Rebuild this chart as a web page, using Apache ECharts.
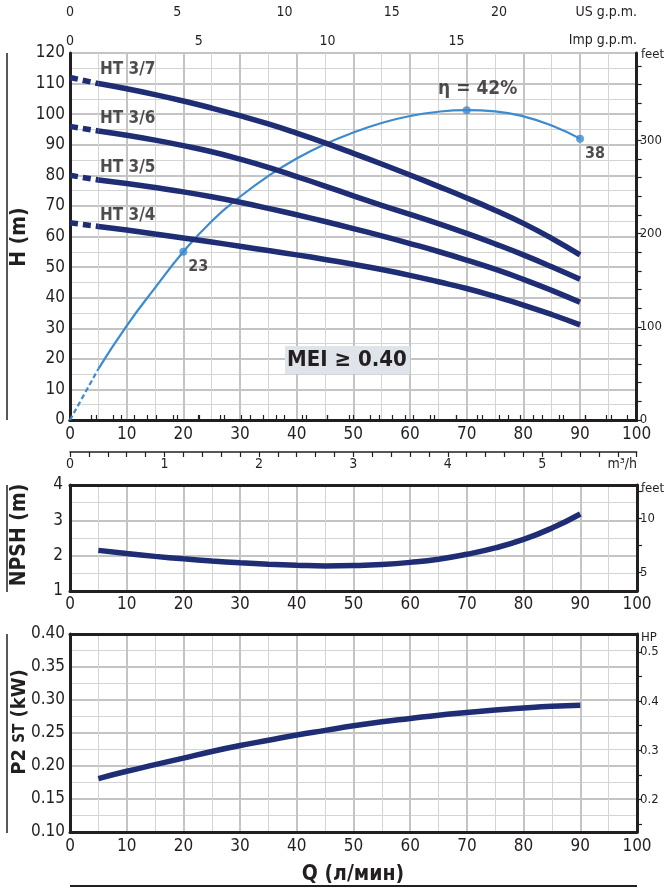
<!DOCTYPE html>
<html>
<head>
<meta charset="utf-8">
<script src="https://cdn.jsdelivr.net/npm/echarts@6/dist/echarts.min.js"></script>
<style>
html, body { margin: 0; padding: 0; background: #fff; }
#chart { width: 665px; height: 889px; }
</style>
</head>
<body>
<div id="chart"></div>
<script>
const FONT = "'Liberation Sans Narrow', 'DejaVu Sans Condensed', sans-serif";
const INK = '#231f20';
const NAVY = '#1f2e74';
const BLUE = '#3c8bd0';
const GRID = '#c4c4c4';
const GRID_MINOR = '#d4d4d4';

// flow, l/min
const flowQ = [5, 10, 15, 20, 25, 30, 35, 40, 45, 50, 55, 60, 65, 70, 75, 80, 85, 90];

// head curves, m (solid part, from 5 l/min)
const ht37 = [110, 108.3, 106.4, 104.3, 102, 99.5, 96.8, 93.8, 90.6, 87.2, 83.7, 80.1, 76.4, 72.6, 68.6, 64.3, 59.4, 54];
const ht36 = [94.5, 93.1, 91.5, 89.7, 87.7, 85.3, 82.6, 79.6, 76.5, 73.3, 70.2, 67.2, 64.2, 61, 57.6, 54, 50.1, 46];
const ht35 = [78.5, 77.3, 76, 74.6, 73, 71.2, 69.2, 67.1, 64.9, 62.6, 60.2, 57.7, 55.1, 52.3, 49.3, 46, 42.4, 38.5];
const ht34 = [63.3, 62.1, 60.8, 59.5, 58.2, 56.8, 55.4, 54, 52.5, 50.9, 49.2, 47.3, 45.2, 43, 40.4, 37.6, 34.5, 31.1];
const headCurves = [ht37, ht36, ht35, ht34];
const curveNames = ['HT 3/7', 'HT 3/6', 'HT 3/5', 'HT 3/4'];
// head at zero flow (dashed start)
const shutoffHead = [112, 96, 80, 64.5];

// efficiency curve drawn on the H scale
const effHead = [16.7, 30.8, 43.2, 55, 65, 73, 79.8, 85.5, 90.2, 94, 97.1, 99.4, 100.8, 101.3, 100.9, 99.3, 96.3, 92];
const effMarkQ = [20, 70, 90];
const effMarkText = ['23', '42%', '38'];

// NPSH, m
const npsh = [2.15, 2.06, 1.98, 1.91, 1.85, 1.80, 1.76, 1.73, 1.71, 1.72, 1.75, 1.81, 1.90, 2.04, 2.22, 2.46, 2.78, 3.18];
// P2, kW
const p2 = [0.181, 0.192, 0.202, 0.212, 0.222, 0.231, 0.239, 0.247, 0.254, 0.261, 0.267, 0.272, 0.277, 0.281, 0.285, 0.288, 0.2905, 0.292];

const M_TO_FT = 3.28084;
const KW_TO_HP = 1 / 0.7457;
const LPM_PER_IMP = 4.54609;
const LPM_PER_US = 3.78541;

function pairs(ys) {
    return flowQ.map((q, i) => [q, ys[i]]);
}

function isWhole(v, step) {
    let r = Math.round(v / step);
    return Math.abs(v / step - r) < 1e-6;
}

let labelBase = { fontFamily: FONT, color: INK };

function flowAxis(gridIndex, margin) {
    return {
        type: 'value', gridIndex: gridIndex, position: 'bottom',
        min: 0, max: 100, interval: 10,
        axisLine: { show: true, onZero: false, lineStyle: { color: INK, width: 3 } },
        axisTick: { show: false },
        axisLabel: Object.assign({ fontSize: 17, margin: margin }, labelBase),
        minorTick: { show: false, splitNumber: 2 },
        splitLine: { show: true, lineStyle: { color: GRID, width: 2 } },
        minorSplitLine: { show: true, lineStyle: { color: GRID_MINOR, width: 1 } }
    };
}

function frameTop(gridIndex) {
    return {
        type: 'value', gridIndex: gridIndex, position: 'top', min: 0, max: 100,
        axisLine: { show: true, lineStyle: { color: INK, width: 3 } },
        axisTick: { show: false }, axisLabel: { show: false }, splitLine: { show: false }
    };
}

function leftAxis(gridIndex, min, max, interval, margin, formatter) {
    return {
        type: 'value', gridIndex: gridIndex, position: 'left',
        min: min, max: max, interval: interval,
        axisLine: { show: true, onZero: false, lineStyle: { color: INK, width: 3 } },
        axisTick: { show: false },
        axisLabel: Object.assign({ fontSize: 17, margin: margin, formatter: formatter }, labelBase),
        minorTick: { show: false, splitNumber: 2 },
        splitLine: { show: true, lineStyle: { color: GRID, width: 2 } },
        minorSplitLine: { show: true, lineStyle: { color: GRID_MINOR, width: 1 } }
    };
}

let options = {
    animation: false,
    backgroundColor: '#fff',
    grid: [
        { left: 70, top: 53, width: 567, height: 367 },
        { left: 70, top: 485, width: 567, height: 106 },
        { left: 70, top: 634, width: 567, height: 198 }
    ],
    xAxis: [
        flowAxis(0, 6),
        {
            type: 'value', gridIndex: 0, position: 'top',
            min: 0, max: 100 / LPM_PER_IMP, interval: 1,
            axisLine: { show: true, lineStyle: { color: INK, width: 3 } },
            axisTick: { show: true, length: 5, lineStyle: { color: INK, width: 1.2 } },
            axisLabel: Object.assign({
                fontSize: 14, margin: 5, showMaxLabel: false,
                formatter: v => (isWhole(v, 5) && v < 19 ? String(Math.round(v)) : '')
            }, labelBase),
            splitLine: { show: false }
        },
        {
            type: 'value', gridIndex: 0, position: 'top', offset: 29,
            min: 0, max: 100 / LPM_PER_US, interval: 1,
            axisLine: { show: true, lineStyle: { color: INK, width: 1.5 } },
            axisTick: { show: true, length: 5, lineStyle: { color: INK, width: 1.2 } },
            axisLabel: Object.assign({
                fontSize: 14, margin: 5, showMaxLabel: false,
                formatter: v => (isWhole(v, 5) && v < 24 ? String(Math.round(v)) : '')
            }, labelBase),
            splitLine: { show: false }
        },
        {
            type: 'value', gridIndex: 0, position: 'bottom', offset: 32,
            min: 0, max: 6, interval: 0.2,
            axisLine: { show: true, onZero: false, lineStyle: { color: INK, width: 1.5 } },
            axisTick: { show: true, length: 5, lineStyle: { color: INK, width: 1.2 } },
            axisLabel: Object.assign({
                fontSize: 14, margin: 5,
                formatter: v => (isWhole(v, 1) && v < 5.5 ? String(Math.round(v)) : '')
            }, labelBase),
            splitLine: { show: false }
        },
        flowAxis(1, 5),
        frameTop(1),
        flowAxis(2, 6),
        frameTop(2)
    ],
    yAxis: [
        leftAxis(0, 0, 120, 10, 5),
        {
            type: 'value', gridIndex: 0, position: 'right',
            min: 0, max: 120 * M_TO_FT, interval: 20,
            axisLine: { show: true, onZero: false, lineStyle: { color: INK, width: 3 } },
            axisTick: { show: true, length: 5, lineStyle: { color: INK, width: 1.2 } },
            axisLabel: Object.assign({
                fontSize: 13, margin: 3, showMaxLabel: false,
                formatter: v => (isWhole(v, 100) ? String(Math.round(v)) : '')
            }, labelBase),
            splitLine: { show: false }
        },
        leftAxis(1, 1, 4, 1, 7),
        {
            type: 'value', gridIndex: 1, position: 'right',
            min: 1 * M_TO_FT, max: 4 * M_TO_FT,
            axisLine: { show: true, onZero: false, lineStyle: { color: INK, width: 3 } },
            axisTick: { show: true, length: 5, customValues: [5, 7.5, 10, 12.5], lineStyle: { color: INK, width: 1.2 } },
            axisLabel: Object.assign({ fontSize: 13, margin: 3, customValues: [5, 10] }, labelBase),
            splitLine: { show: false }
        },
        leftAxis(2, 0.1, 0.4, 0.05, 5, v => v.toFixed(2)),
        {
            type: 'value', gridIndex: 2, position: 'right',
            min: 0.1 * KW_TO_HP, max: 0.4 * KW_TO_HP,
            axisLine: { show: true, onZero: false, lineStyle: { color: INK, width: 3 } },
            axisTick: { show: true, length: 5, customValues: [0.15, 0.2, 0.25, 0.3, 0.35, 0.4, 0.45, 0.5], lineStyle: { color: INK, width: 1.2 } },
            axisLabel: Object.assign({ fontSize: 13, margin: 3, customValues: [0.2, 0.3, 0.4, 0.5] }, labelBase),
            splitLine: { show: false }
        }
    ],
    series: [],
    graphic: []
};

// efficiency curve (under the head curves)
options.series.push({
    type: 'line', xAxisIndex: 0, yAxisIndex: 0, symbol: 'none', smooth: true, z: 3,
    lineStyle: { color: BLUE, width: 2.2, type: [5, 3] },
    data: [[0, 0], [flowQ[0], effHead[0]]]
});
options.series.push({
    type: 'line', xAxisIndex: 0, yAxisIndex: 0, symbol: 'none', smooth: true, z: 3,
    lineStyle: { color: BLUE, width: 2.2 },
    data: pairs(effHead)
});

// head curves
headCurves.forEach((h, i) => {
    options.series.push({
        type: 'line', xAxisIndex: 0, yAxisIndex: 0, symbol: 'none', z: 4,
        lineStyle: { color: NAVY, width: 5.5, type: [8, 5], cap: 'butt' },
        data: [[0, shutoffHead[i]], [flowQ[0], h[0]]]
    });
    options.series.push({
        type: 'line', xAxisIndex: 0, yAxisIndex: 0, symbol: 'none', smooth: true, z: 4,
        lineStyle: { color: NAVY, width: 5.5, cap: 'butt' },
        data: pairs(h)
    });
});

// curve names, placed a little above the start of each curve
options.series.push({
    type: 'scatter', xAxisIndex: 0, yAxisIndex: 0, symbolSize: 0, z: 6,
    data: curveNames.map((n, i) => [5.3, shutoffHead[i] + 2.5, n]),
    label: {
        show: true, position: 'right', distance: 0,
        formatter: p => p.data[2],
        fontFamily: FONT, fontWeight: 'bold', fontSize: 17, color: INK
    }
});

// efficiency marks
let effMarks = effMarkQ.map((q, i) => {
    let item = { value: [q, effHead[flowQ.indexOf(q)]] };
    if (effMarkText[i].indexOf('%') >= 0) {
        item.label = {
            position: 'top', distance: 8, offset: [11, 0],
            formatter: '{a|η = }{b|' + effMarkText[i] + '}',
            rich: {
                a: { fontFamily: FONT, fontSize: 19, color: INK },
                b: { fontFamily: FONT, fontSize: 19, fontWeight: 'bold', color: INK }
            }
        };
    } else {
        item.label = { position: [9, 11], formatter: effMarkText[i] };
    }
    return item;
});
options.series.push({
    type: 'scatter', xAxisIndex: 0, yAxisIndex: 0, symbolSize: 8, z: 7,
    itemStyle: { color: BLUE },
    label: { show: true, fontFamily: FONT, fontWeight: 'bold', fontSize: 16, color: INK },
    data: effMarks
});

// NPSH
options.series.push({
    type: 'line', xAxisIndex: 4, yAxisIndex: 2, symbol: 'none', smooth: true, z: 4,
    lineStyle: { color: NAVY, width: 5.5, cap: 'butt' },
    data: pairs(npsh)
});

// P2
options.series.push({
    type: 'line', xAxisIndex: 6, yAxisIndex: 4, symbol: 'none', smooth: true, z: 4,
    lineStyle: { color: NAVY, width: 5.5, cap: 'butt' },
    data: pairs(p2)
});

function txt(x, y, text, size, align, extra) {
    return {
        type: 'text', x: x, y: y, z: 10,
        style: Object.assign({
            text: text, fontFamily: FONT, fontSize: size, fill: INK,
            align: align || 'left', verticalAlign: 'middle'
        }, extra || {})
    };
}

function vtitle(x, y, text, rich) {
    return {
        type: 'text', x: x, y: y, rotation: Math.PI / 2, z: 10,
        style: {
            text: text, fontFamily: FONT, fontSize: 21, fontWeight: 'bold', fill: INK,
            align: 'center', verticalAlign: 'middle', rich: rich
        }
    };
}

function rule(x1, y1, x2, y2, w) {
    return { type: 'line', z: 10, shape: { x1: x1, y1: y1, x2: x2, y2: y2 }, style: { stroke: INK, lineWidth: w } };
}

options.graphic = [
    txt(637, 12, 'US g.p.m.', 14, 'right'),
    txt(637, 40, 'Imp g.p.m.', 14, 'right'),
    txt(637, 464, 'm³/h', 14, 'right'),
    txt(641, 55, 'feet', 13, 'left'),
    txt(641, 489, 'feet', 13, 'left'),
    txt(641, 638, 'HP', 13, 'left'),
    rule(7, 53, 7, 420, 1.5),
    rule(7, 485, 7, 592, 1.5),
    rule(7, 634, 7, 833, 1.5),
    rule(70, 886, 637, 886, 2),
    vtitle(20, 237, 'H (m)'),
    vtitle(20, 535, 'NPSH (m)'),
    vtitle(20, 722, '{a|P2 }{b|ST}{a| (kW)}', {
        a: { fontFamily: FONT, fontSize: 20, fontWeight: 'bold', fill: INK },
        b: { fontFamily: FONT, fontSize: 15, fontWeight: 'bold', fill: INK }
    }),
    txt(353, 875, 'Q (л/мин)', 21, 'center', { fontWeight: 'bold' }),
    {
        type: 'rect', z: 9, shape: { x: 285, y: 346, width: 125, height: 28 },
        style: { fill: '#dfe3ea' }
    },
    txt(347, 360, 'MEI ≥ 0.40', 22, 'center', { fontWeight: 'bold' })
];

let chart = echarts.init(document.getElementById('chart'));
chart.setOption(options);
</script>
</body>
</html>
